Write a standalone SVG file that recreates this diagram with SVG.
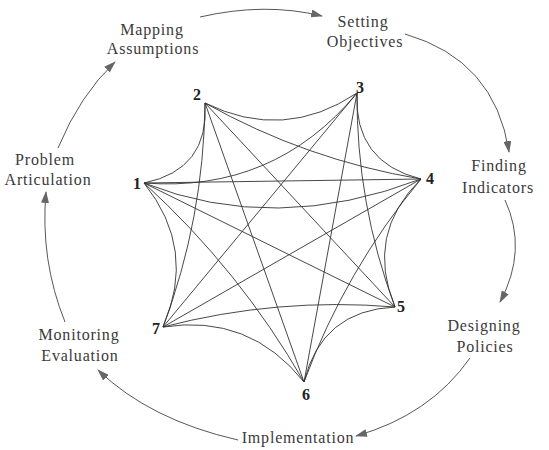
<svg xmlns="http://www.w3.org/2000/svg" width="549" height="450" viewBox="0 0 549 450">
<style>
.lbl{font-family:"Liberation Serif","Times New Roman",serif;font-size:16px;letter-spacing:0.8px;fill:#3a3a3a;text-anchor:middle}
.num{font-family:"Liberation Serif","Times New Roman",serif;font-size:16px;font-weight:bold;fill:#222;text-anchor:middle}
.e{fill:none;stroke:#333;stroke-width:0.9}
.c{fill:none;stroke:#444;stroke-width:0.9;marker-end:url(#ah)}
</style>
<defs>
<marker id="ah" viewBox="0 0 12 8" refX="11" refY="4" markerWidth="12" markerHeight="8" markerUnits="userSpaceOnUse" orient="auto">
<path d="M0,0 L12,4 L0,8 Z" fill="#666"/>
</marker>
</defs>
<rect width="549" height="450" fill="#fff"/>
<g id="cycle">
<path class="c" d="M200,17 Q265,2 322,16"/>
<path class="c" d="M405,34 Q495,60 509,152"/>
<path class="c" d="M505,200 Q528,250 500,302"/>
<path class="c" d="M470,358 Q430,415 356,436"/>
<path class="c" d="M238,440 Q150,420 98,370"/>
<path class="c" d="M65,322 Q40,260 46,192"/>
<path class="c" d="M58,148 Q80,95 115,62"/>
</g>
<g id="edges">
<path class="e" d="M144,183 Q209.5,169.7 205,103"/>
<path class="e" d="M205,103 Q283.9,141.9 357,93"/>
<path class="e" d="M357,93 Q353.7,162.3 421,179"/>
<path class="e" d="M421,179 Q364.9,234.2 395,307"/>
<path class="e" d="M395,307 Q321.5,310.5 304,382"/>
<path class="e" d="M304,382 Q249.5,313.5 163,327"/>
<path class="e" d="M163,327 Q197.1,249.2 144,183"/>
<path class="e" d="M144,183 Q274,193 357,93"/>
<path class="e" d="M205,103 Q306.4,159.9 421,179"/>
<path class="e" d="M357,93 Q356.3,203.5 395,307"/>
<path class="e" d="M421,179 Q345.2,270.5 304,382"/>
<path class="e" d="M395,307 Q277.3,297.1 163,327"/>
<path class="e" d="M304,382 Q239.6,270 144,183"/>
<path class="e" d="M163,327 Q203.7,218.7 205,103"/>
<path class="e" d="M144,183 L421,179"/>
<path class="e" d="M144,183 Q275,235 421,179"/>
<path class="e" d="M205,103 L395,307"/>
<path class="e" d="M357,93 L304,382"/>
<path class="e" d="M421,179 L163,327"/>
<path class="e" d="M395,307 L144,183"/>
<path class="e" d="M304,382 L205,103"/>
<path class="e" d="M163,327 L357,93"/>
</g>
<g id="n1"><text class="num" x="137" y="189">1</text></g>
<g id="n2"><text class="num" x="197" y="100">2</text></g>
<g id="n3"><text class="num" x="360" y="93">3</text></g>
<g id="n4"><text class="num" x="430" y="184">4</text></g>
<g id="n5"><text class="num" x="401" y="312">5</text></g>
<g id="n6"><text class="num" x="306" y="400">6</text></g>
<g id="n7"><text class="num" x="156" y="334">7</text></g>
<g id="mapping"><text class="lbl" x="152" y="35">Mapping</text><text class="lbl" x="153" y="54">Assumptions</text></g>
<g id="setting"><text class="lbl" x="363" y="27">Setting</text><text class="lbl" x="365" y="47">Objectives</text></g>
<g id="problem"><text class="lbl" x="45" y="165">Problem</text><text class="lbl" x="48" y="185">Articulation</text></g>
<g id="finding"><text class="lbl" x="499" y="171">Finding</text><text class="lbl" x="498" y="193">Indicators</text></g>
<g id="designing"><text class="lbl" x="484" y="331">Designing</text><text class="lbl" x="485" y="352">Policies</text></g>
<g id="monitoring"><text class="lbl" x="79" y="340">Monitoring</text><text class="lbl" x="80" y="361">Evaluation</text></g>
<g id="implementation"><text class="lbl" x="298" y="443">Implementation</text></g>
</svg>
